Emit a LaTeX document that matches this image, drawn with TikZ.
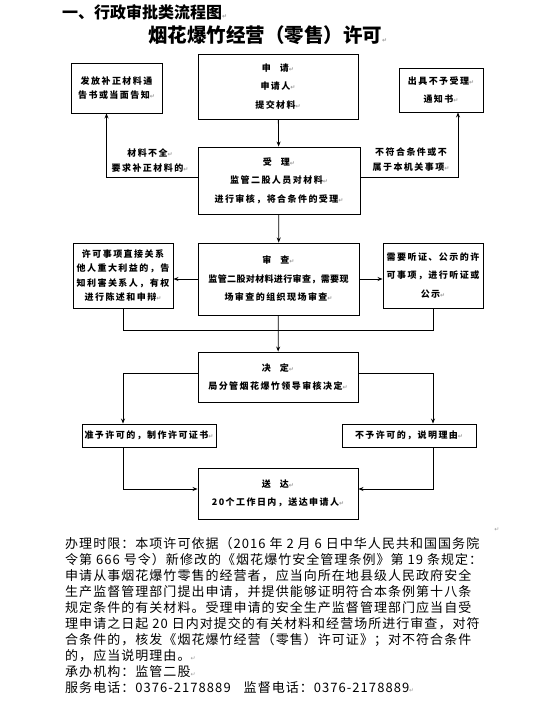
\documentclass[tikz,border=0pt]{standalone}
\usepackage{fontspec}
\setmainfont{Noto Sans CJK SC}
\newfontfamily\boxfont[LetterSpace=16]{Noto Sans CJK SC}
\newfontfamily\tightfont[LetterSpace=4]{Noto Sans CJK SC}
\newfontfamily\bodyfont[LetterSpace=8]{Noto Sans CJK SC}
\newfontfamily\markfont{DejaVu Sans}
\usetikzlibrary{arrows.meta,positioning,calc}
\definecolor{markgray}{HTML}{9A9A9A}
\newcommand{\eol}{{\markfont\fontsize{6}{6}\selectfont\textcolor{markgray}{↵}}}
\tikzset{
  stepbox/.style={draw, line width=0.9pt, align=center, inner sep=0pt,
    font=\boxfont\bfseries\fontsize{9}{18.5}\selectfont},
  sidebox/.style={stepbox, font=\boxfont\bfseries\fontsize{9}{14.5}\selectfont},
  cond/.style={align=center, inner sep=0pt,
    font=\boxfont\bfseries\fontsize{9}{15}\selectfont},
  flow/.style={-{Stealth[length=5pt,width=4pt]}, line width=0.8pt},
  link/.style={line width=0.8pt},
  heading/.style={anchor=west, inner sep=0pt},
}
\begin{document}
\begin{tikzpicture}[x=1pt,y=-1pt]
  \useasboundingbox (0,0) rectangle (553,703);
  % headings
  \node[heading, font=\bfseries\fontsize{16}{16}\selectfont] (head) at (62,12) {一、行政审批类流程图\eol};
  \node[heading, font=\bfseries\fontsize{19.5}{19.5}\selectfont] (title) at (148,35) {烟花爆竹经营（零售）许可\eol};
  % the main column
  \node[stepbox, minimum width=160, minimum height=65] (apply) at (278,86.5)
    {申\quad 请\eol\\申请人\eol\\提交材料\eol};
  \node[stepbox, minimum width=162, minimum height=67] (accept) at (279,180.5)
    {受\quad 理\eol\\监管二股人员对材料\eol\\进行审核，将合条件的受理\eol};
  \node[stepbox, minimum width=161, minimum height=72] (review) at (278.5,279)
    {审\quad 查\eol\\{\tightfont 监管二股对材料进行审查，需要现}\\场审查的组织现场审查\eol};
  \node[stepbox, minimum width=160, minimum height=50] (decide) at (278,377)
    {决\quad 定\eol\\局分管烟花爆竹领导审核决定\eol};
  \node[stepbox, minimum width=160, minimum height=51] (deliver) at (278,493.5)
    {送\quad 达\eol\\20个工作日内，送达申请人\eol};
  % side boxes
  \node[sidebox, minimum width=91, minimum height=50] (supp) at (116.5,88)
    {发放补正材料通\\告书或当面告知\eol};
  \node[stepbox, minimum width=84, minimum height=44] (refuse) at (441,90)
    {出具不予受理\eol\\通知书\eol};
  \node[sidebox, minimum width=100, minimum height=65] (inform) at (123,275.5)
    {许可事项直接关系\\他人重大利益的，告\\知利害关系人，有权\\进行陈述和申辩\eol};
  \node[stepbox, minimum width=100, minimum height=65] (hearing) at (433,275.5)
    {需要听证、公示的许\\可事项，进行听证或\\公示\eol};
  \node[stepbox, minimum width=134, minimum height=23] (grant) at (149,435.5)
    {准予许可的，制作许可证书\eol};
  \node[stepbox, minimum width=134, minimum height=23] (deny) at (409,435.5)
    {不予许可的，说明理由\eol};
  % branch labels
  \node[cond] (lack) at (150,161) {材料不全\eol\\要求补正材料的\eol};
  \node[cond] (outside) at (411,160) {不符合条件或不\\属于本机关事项\eol};
  % connectors
  \draw[flow] (apply) -- (accept);
  \draw[flow] ([yshift=3.5pt]accept.west) -| ([xshift=-10pt]supp.south);
  \draw[flow] ([yshift=3.5pt]accept.east) -| ([xshift=17pt]refuse.south);
  \draw[flow] (accept) -- (review);
  \draw[flow] (review.west) -- (review.west -| inform.east);
  \draw[flow] (review.east) -- (review.east -| hearing.west);
  \draw[link] (inform.south) -- ++(0,21.5) coordinate (join) -| (hearing.south);
  \draw[flow] (review) -- (decide);
  \draw[flow] ([yshift=4pt]decide.west) -| (grant.north -| inform.south);
  \draw[flow] ([yshift=4pt]decide.east) -| (deny.north -| hearing.south);
  \draw[flow] (grant.south -| inform.south) |- ([yshift=4.5pt]deliver.west);
  \draw[flow] (deny.south -| hearing.south) |- ([yshift=4.5pt]deliver.east);
  % notes under the chart
  \node[inner sep=0pt] (blank) at (497,530) {\eol};
  \node[anchor=north west, inner sep=0pt, align=left,
    font=\bodyfont\fontsize{13}{16}\selectfont] (notes) at (65,537)
    {办理时限：本项许可依据（2016 年 2 月 6 日中华人民共和国国务院\\
     令第 666 号令）新修改的《烟花爆竹安全管理条例》第 19 条规定：\\
     申请从事烟花爆竹零售的经营者，应当向所在地县级人民政府安全\\
     生产监督管理部门提出申请，并提供能够证明符合本条例第十八条\\
     规定条件的有关材料。受理申请的安全生产监督管理部门应当自受\\
     理申请之日起 20 日内对提交的有关材料和经营场所进行审查，对符\\
     合条件的，核发《烟花爆竹经营（零售）许可证》；对不符合条件\\
     的，应当说明理由。\eol\\
     承办机构：监管二股\eol\\
     服务电话：0376-2178889\quad 监督电话：0376-2178889\eol};
\end{tikzpicture}
\end{document}
